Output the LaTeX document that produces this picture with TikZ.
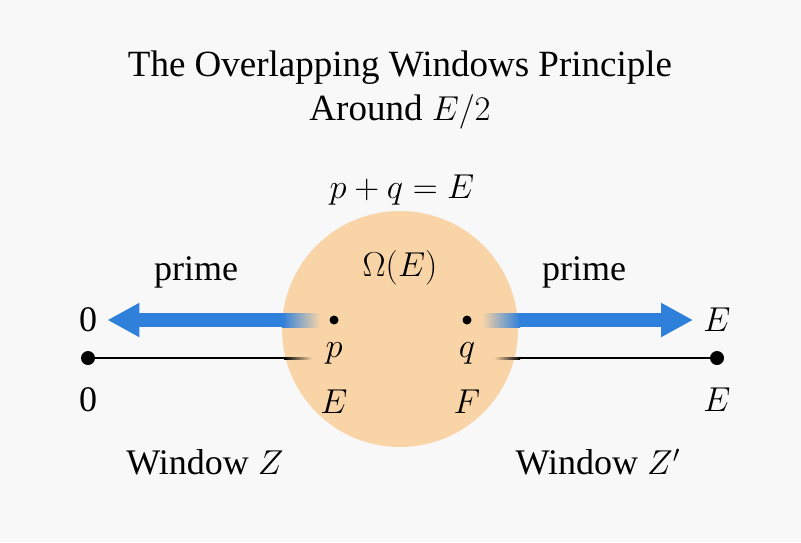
\documentclass[tikz,border=0pt]{standalone}
\usepackage{fontspec}
\setmainfont{Liberation Serif}
\usepackage{tikz}
\usetikzlibrary{arrows.meta,positioning}
\definecolor{paper}{HTML}{F8F8F8}
\definecolor{peach}{HTML}{F9D4A6}
\definecolor{skyblue}{HTML}{2F80DA}
\definecolor{fadegray}{HTML}{A9A294}

\begin{document}
\begin{tikzpicture}[
    x=0.5pt, y=-0.5pt,
    lbl/.style={inner sep=1pt, font=\fontsize{18}{21}\selectfont},
    ttl/.style={inner sep=1pt, font=\fontsize{18.5}{22}\selectfont, align=center},
    dotmark/.style={circle, fill=black, inner sep=0pt, minimum size=4.5pt},
    bigdot/.style={circle, fill=black, inner sep=0pt, minimum size=7pt},
    arr/.style={-{Triangle[length=16pt, width=16pt]}, skyblue, line width=7pt, shorten >=4pt},
    axis/.style={black, line width=1pt}
  ]
  \fill[paper] (0,0) rectangle (801,542);
  \useasboundingbox (0,0) rectangle (801,542);

  % title
  \node[ttl] (title) at (400,90) {The Overlapping Windows Principle\\Around $E/2$};
  \node[lbl] (sum) at (402,190) {$p+q=E$};

  % the overlap region
  \node[circle, fill=peach, minimum size=118pt, inner sep=0pt] (omega) at (400,329) {};
  \node[lbl] (omegalbl) at (400,268) {$\Omega(E)$};

  % fading ends inside the region
  \shade[left color=skyblue, middle color=fadegray, right color=peach] (282,313) rectangle (320,327);
  \shade[left color=peach, middle color=fadegray, right color=skyblue] (482,313) rectangle (520,327);
  \shade[left color=black, right color=peach] (284,357) rectangle (312,359);
  \shade[left color=peach, right color=black] (494,357) rectangle (520,359);

  % points p and q
  \node[dotmark] (pdot) at (334,320) {};
  \node[dotmark] (qdot) at (467,320) {};
  \node[lbl] (plbl) at (334,353) {$p$};
  \node[lbl] (qlbl) at (467,353) {$q$};
  \node[lbl] (Elbl) at (334,402) {$E$};
  \node[lbl] (Flbl) at (467,402) {$F$};

  % end labels
  \node[lbl] (zerotop) at (88,320) {0};
  \node[lbl] (zerobot) at (88,400) {0};
  \node[lbl] (Etop) at (717,320) {$E$};
  \node[lbl] (Ebot) at (717,400) {$E$};
  \node[bigdot] (lend) at (88,358) {};
  \node[bigdot] (rend) at (717,358) {};
  \coordinate (lcut) at (285,358);
  \coordinate (rcut) at (519,358);
  \coordinate (larrstart) at (283,320);
  \coordinate (rarrstart) at (519,320);

  % arrows and number line
  \draw[arr] (larrstart) -- (zerotop.east);
  \draw[arr] (rarrstart) -- (Etop.west);
  \draw[axis] (lend) -- (lcut);
  \draw[axis] (rcut) -- (rend);

  \node[lbl] (primeL) at (196,272) {prime};
  \node[lbl] (primeR) at (584,272) {prime};
  \node[lbl] (winZ) at (205,462) {Window $Z$};
  \node[lbl] (winZp) at (598,462) {Window $Z'$};
\end{tikzpicture}
\end{document}
